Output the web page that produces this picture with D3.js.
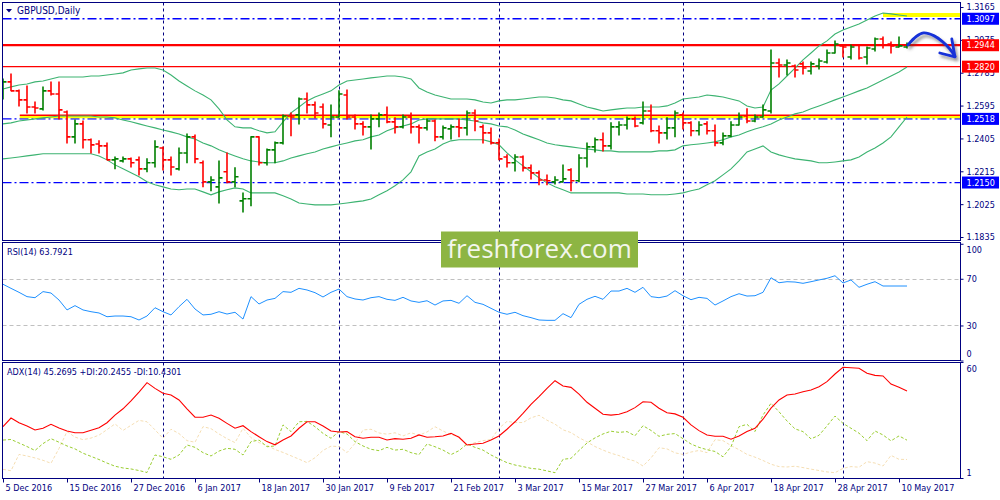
<!DOCTYPE html>
<html><head><meta charset="utf-8">
<script src="https://cdn.jsdelivr.net/npm/d3@7/dist/d3.min.js"></script>
<style>
body{margin:0;background:#fff}
svg{display:block}
text{font-family:"DejaVu Sans Condensed","DejaVu Sans",sans-serif;font-stretch:condensed;font-size:9px;fill:#000080}
</style>
</head><body>
<svg id="c" width="1000" height="500"></svg>
<script>
// ---------- DATA ----------
const openP = [1.2674,1.2732,1.2680,1.2628,1.2587,1.2576,1.2680,1.2662,1.2558,1.2414,
1.2489,1.2397,1.2373,1.2362,1.2281,1.2275,1.2287,1.2281,1.2229,1.2264,
1.2350,1.2281,1.2229,1.2321,1.2414,1.2264,1.2154,1.2125,1.2212,1.2154,
1.2044,1.2056,1.2414,1.2264,1.2339,1.2379,1.2535,1.2541,1.2633,1.2599,
1.2587,1.2483,1.2529,1.2656,1.2529,1.2489,1.2472,1.2518,1.2541,1.2501,
1.2472,1.2529,1.2472,1.2466,1.2506,1.2414,1.2460,1.2472,1.2466,1.2552,
1.2472,1.2437,1.2379,1.2298,1.2264,1.2298,1.2235,1.2206,1.2165,1.2154,
1.2154,1.2223,1.2160,1.2292,1.2356,1.2397,1.2362,1.2472,1.2483,1.2518,
1.2495,1.2564,1.2449,1.2437,1.2466,1.2541,1.2495,1.2449,1.2489,1.2449,
1.2379,1.2420,1.2483,1.2535,1.2506,1.2529,1.2564,1.2841,1.2830,1.2824,
1.2836,1.2795,1.2824,1.2847,1.2899,1.2940,1.2876,1.2945,1.2876,1.2922,
1.2980,1.2951,1.2934,1.2934];
const highP = [1.2749,1.2778,1.2685,1.2708,1.2616,1.2703,1.2732,1.2732,1.2564,1.2512,
1.2506,1.2402,1.2391,1.2379,1.2298,1.2298,1.2292,1.2298,1.2287,1.2391,
1.2356,1.2298,1.2350,1.2431,1.2425,1.2275,1.2183,1.2275,1.2321,1.2235,
1.2090,1.2414,1.2414,1.2344,1.2385,1.2541,1.2552,1.2639,1.2668,1.2616,
1.2604,1.2599,1.2680,1.2685,1.2541,1.2501,1.2541,1.2552,1.2587,1.2524,
1.2541,1.2552,1.2483,1.2518,1.2512,1.2477,1.2483,1.2518,1.2564,1.2570,
1.2483,1.2466,1.2402,1.2310,1.2310,1.2304,1.2252,1.2217,1.2194,1.2183,
1.2252,1.2229,1.2310,1.2379,1.2408,1.2437,1.2495,1.2501,1.2529,1.2529,
1.2616,1.2599,1.2477,1.2524,1.2564,1.2552,1.2501,1.2501,1.2501,1.2483,
1.2437,1.2501,1.2552,1.2576,1.2541,1.2599,1.2917,1.2865,1.2859,1.2830,
1.2847,1.2847,1.2865,1.2917,1.2969,1.2945,1.2945,1.2945,1.2934,1.2986,
1.2992,1.2963,1.2992,1.2957];
const lowP = [1.2633,1.2680,1.2593,1.2552,1.2552,1.2570,1.2656,1.2518,1.2379,1.2379,
1.2350,1.2321,1.2321,1.2281,1.2229,1.2269,1.2240,1.2194,1.2212,1.2240,
1.2223,1.2194,1.2223,1.2264,1.2264,1.2125,1.2102,1.2032,1.2148,1.2125,
1.1980,1.2015,1.2252,1.2252,1.2264,1.2373,1.2420,1.2489,1.2552,1.2524,
1.2466,1.2414,1.2529,1.2518,1.2460,1.2425,1.2344,1.2472,1.2495,1.2437,
1.2466,1.2437,1.2379,1.2454,1.2391,1.2402,1.2402,1.2414,1.2425,1.2449,
1.2379,1.2373,1.2281,1.2240,1.2217,1.2217,1.2171,1.2137,1.2137,1.2142,
1.2154,1.2102,1.2154,1.2240,1.2327,1.2333,1.2344,1.2425,1.2460,1.2472,
1.2489,1.2443,1.2379,1.2402,1.2414,1.2460,1.2420,1.2425,1.2431,1.2362,
1.2368,1.2414,1.2483,1.2495,1.2501,1.2529,1.2552,1.2760,1.2772,1.2760,
1.2778,1.2778,1.2807,1.2841,1.2899,1.2876,1.2865,1.2865,1.2836,1.2911,
1.2928,1.2899,1.2934,1.2928];
const closeP = [1.2732,1.2680,1.2628,1.2587,1.2581,1.2680,1.2662,1.2570,1.2414,1.2489,
1.2397,1.2368,1.2362,1.2281,1.2287,1.2287,1.2264,1.2229,1.2264,1.2356,
1.2281,1.2240,1.2321,1.2414,1.2287,1.2154,1.2165,1.2177,1.2154,1.2183,
1.2056,1.2414,1.2264,1.2339,1.2379,1.2535,1.2529,1.2633,1.2599,1.2552,
1.2489,1.2529,1.2662,1.2529,1.2489,1.2472,1.2518,1.2541,1.2501,1.2472,
1.2529,1.2472,1.2466,1.2506,1.2414,1.2466,1.2472,1.2466,1.2552,1.2506,
1.2437,1.2379,1.2287,1.2264,1.2298,1.2235,1.2206,1.2165,1.2160,1.2165,
1.2171,1.2160,1.2292,1.2356,1.2397,1.2362,1.2472,1.2483,1.2518,1.2477,
1.2564,1.2449,1.2437,1.2466,1.2552,1.2495,1.2449,1.2483,1.2449,1.2379,
1.2420,1.2483,1.2529,1.2506,1.2529,1.2570,1.2841,1.2830,1.2841,1.2801,
1.2812,1.2836,1.2853,1.2899,1.2951,1.2934,1.2934,1.2870,1.2928,1.2980,
1.2945,1.2940,1.2940,1.2945];
const bbUpper = [1.2691,1.2703,1.2714,1.2720,1.2732,1.2737,1.2749,1.2760,1.2760,1.2760,
1.2760,1.2766,1.2766,1.2772,1.2778,1.2784,1.2801,1.2807,1.2812,1.2812,
1.2801,1.2772,1.2737,1.2708,1.2680,1.2656,1.2628,1.2576,1.2512,1.2472,
1.2466,1.2466,1.2449,1.2437,1.2443,1.2501,1.2553,1.2587,1.2622,1.2645,
1.2662,1.2680,1.2714,1.2737,1.2743,1.2749,1.2755,1.2760,1.2766,1.2766,
1.2760,1.2749,1.2697,1.2674,1.2656,1.2645,1.2633,1.2633,1.2633,1.2628,
1.2616,1.2610,1.2622,1.2628,1.2628,1.2633,1.2639,1.2645,1.2645,1.2639,
1.2628,1.2622,1.2604,1.2587,1.2576,1.2564,1.2570,1.2576,1.2581,1.2581,
1.2587,1.2587,1.2587,1.2593,1.2610,1.2633,1.2639,1.2645,1.2656,1.2651,
1.2645,1.2633,1.2622,1.2593,1.2581,1.2587,1.2685,1.2720,1.2766,1.2812,
1.2859,1.2899,1.2940,1.2969,1.3009,1.3032,1.3049,1.3067,1.3090,1.3113,
1.3130,1.3125,1.3119,1.3113];
const bbMiddle = [1.2489,1.2495,1.2506,1.2512,1.2518,1.2524,1.2529,1.2535,1.2535,1.2535,
1.2535,1.2535,1.2529,1.2529,1.2524,1.2512,1.2501,1.2489,1.2477,1.2466,
1.2454,1.2443,1.2431,1.2414,1.2402,1.2379,1.2362,1.2339,1.2321,1.2304,
1.2287,1.2275,1.2269,1.2264,1.2264,1.2275,1.2292,1.2304,1.2316,1.2327,
1.2344,1.2356,1.2368,1.2379,1.2391,1.2397,1.2414,1.2425,1.2449,1.2466,
1.2477,1.2489,1.2512,1.2518,1.2518,1.2518,1.2518,1.2518,1.2512,1.2506,
1.2495,1.2489,1.2477,1.2472,1.2454,1.2431,1.2414,1.2397,1.2379,1.2368,
1.2362,1.2356,1.2350,1.2344,1.2339,1.2333,1.2333,1.2327,1.2327,1.2327,
1.2327,1.2327,1.2333,1.2333,1.2339,1.2362,1.2368,1.2373,1.2379,1.2385,
1.2397,1.2414,1.2425,1.2443,1.2460,1.2472,1.2489,1.2512,1.2529,1.2547,
1.2558,1.2576,1.2593,1.2610,1.2628,1.2645,1.2662,1.2680,1.2697,1.2720,
1.2743,1.2766,1.2789,1.2818];
const bbLower = [1.2287,1.2292,1.2298,1.2304,1.2310,1.2316,1.2316,1.2316,1.2316,1.2316,
1.2316,1.2316,1.2304,1.2281,1.2252,1.2229,1.2206,1.2183,1.2154,1.2137,
1.2125,1.2113,1.2108,1.2113,1.2113,1.2096,1.2079,1.2096,1.2108,1.2119,
1.2113,1.2090,1.2090,1.2090,1.2090,1.2073,1.2055,1.2032,1.2026,1.2021,
1.2021,1.2021,1.2026,1.2032,1.2038,1.2044,1.2055,1.2079,1.2102,1.2131,
1.2165,1.2212,1.2304,1.2327,1.2344,1.2373,1.2391,1.2397,1.2397,1.2397,
1.2397,1.2385,1.2368,1.2321,1.2281,1.2246,1.2212,1.2177,1.2148,1.2125,
1.2108,1.2090,1.2090,1.2090,1.2090,1.2090,1.2090,1.2090,1.2084,1.2084,
1.2084,1.2079,1.2079,1.2079,1.2084,1.2090,1.2102,1.2113,1.2137,1.2160,
1.2194,1.2229,1.2275,1.2327,1.2344,1.2362,1.2327,1.2310,1.2298,1.2287,
1.2281,1.2275,1.2264,1.2264,1.2269,1.2275,1.2281,1.2298,1.2327,1.2350,
1.2379,1.2414,1.2472,1.2529];
const rsi = [65.3,61.8,58.4,54.7,53.8,59.0,57.8,51.8,43.3,47.0,
43.3,41.8,40.7,37.5,38.1,38.1,37.5,34.7,38.1,45.2,
41.8,39.0,46.1,52.4,44.1,39.0,39.6,41.8,39.8,41.3,
35.5,54.7,48.4,51.8,53.2,59.0,58.4,61.8,60.4,58.1,
54.4,58.4,61.2,54.7,52.7,51.8,53.8,54.7,52.4,51.5,
54.1,51.0,49.8,51.2,47.5,51.0,51.5,49.0,55.5,49.8,
48.1,44.7,41.3,39.6,41.3,38.4,36.7,34.7,34.4,34.4,
40.1,36.7,48.1,52.4,55.0,52.4,59.5,59.5,61.8,58.4,
62.7,54.7,53.8,55.2,59.8,55.5,52.1,54.1,53.2,47.5,
51.0,54.7,57.2,55.2,55.5,58.4,70.9,66.6,67.5,67.2,
66.1,67.5,69.0,70.4,72.6,66.4,69.0,62.7,65.3,67.5,
63.8,63.8,63.8,63.79];
const adx = [27.1,31.5,29.1,27.4,25.4,26.3,28.3,26.4,24.9,24.0,
24.0,25.3,26.6,29.1,33.0,36.2,40.2,44.7,49.5,46.6,
44.1,43.2,40.7,36.2,31.9,31.9,33.0,31.4,28.8,26.3,
27.6,24.6,22.0,19.5,17.9,20.3,22.4,26.3,29.6,29.6,
27.4,24.9,24.4,24.6,22.0,21.2,21.7,21.7,20.3,21.0,
20.7,21.2,22.9,21.7,22.0,22.4,23.7,21.7,17.8,18.3,
18.7,20.3,22.4,25.8,29.6,33.9,38.5,42.4,46.6,50.5,
47.8,47.1,43.7,39.5,36.5,33.4,33.0,33.4,34.7,36.8,
39.8,39.5,36.5,34.2,33.6,31.9,28.0,25.1,22.9,22.2,
22.2,20.7,22.4,24.6,26.3,30.9,36.5,40.7,43.2,43.7,
44.9,45.8,47.4,50.0,53.9,57.3,57.1,56.8,54.3,53.2,
52.9,48.8,47.1,45.27];
const plusDI = [20.3,20.6,18.8,17.0,15.0,18.5,21.0,19.2,17.3,15.8,
13.6,12.0,10.4,8.6,7.0,6.1,5.6,4.8,3.8,12.7,
11.8,10.5,12.7,17.8,16.6,13.9,12.2,14.7,16.1,15.6,
12.7,19.5,20.3,16.9,17.3,28.0,24.6,29.6,29.8,27.1,
23.7,21.2,24.6,23.4,19.5,17.3,15.6,14.9,16.6,15.2,
15.6,13.9,12.9,18.3,16.9,15.2,12.9,14.9,18.3,16.6,
15.2,12.7,10.7,8.8,7.6,6.8,5.9,5.5,4.6,3.7,
10.5,11.0,15.0,18.8,21.4,23.4,24.8,24.2,24.6,22.5,
27.6,25.2,22.2,23.2,23.6,21.0,18.3,16.6,15.4,14.5,
11.8,16.9,27.1,28.3,24.6,33.0,39.0,34.7,30.0,26.0,
24.6,20.9,22.7,27.5,32.5,28.8,26.3,23.8,20.0,24.9,
22.9,19.9,22.4,20.25];
const minusDI = [5.4,4.7,13.0,12.2,11.2,10.0,8.5,16.0,24.6,21.8,
20.5,21.3,22.8,25.6,28.5,25.2,27.8,30.3,29.6,25.5,
21.2,25.8,23.6,20.0,19.2,27.1,26.1,23.4,21.0,19.0,
26.3,21.5,19.0,17.6,15.5,14.0,12.3,10.6,8.8,11.3,
15.0,17.2,17.0,13.9,18.6,25.4,25.8,23.9,23.3,24.0,
22.4,24.0,22.8,24.4,27.1,24.9,23.0,22.1,17.5,19.0,
20.0,20.6,26.3,29.8,29.2,29.2,31.6,32.9,30.4,28.4,
25.5,24.1,21.5,19.4,17.0,15.2,13.6,12.4,10.7,9.6,
7.1,11.2,16.4,15.8,13.8,13.0,14.2,15.0,13.9,20.5,
20.0,17.5,15.4,13.0,11.6,9.9,8.0,6.8,6.6,7.0,
6.3,5.5,4.8,4.1,3.7,5.9,6.8,6.5,9.3,8.6,
7.1,12.5,10.5,10.43];

const priceTicks = [1.3165,1.2975,1.2785,1.2595,1.2405,1.2215,1.2025,1.1835];
const rsiTicks = [100,70,30,0];
const rsiLevels = [70,30];
const adxTicks = [60,1];
const dateLabels = ["5 Dec 2016","15 Dec 2016","27 Dec 2016","6 Jan 2017","18 Jan 2017","30 Jan 2017","9 Feb 2017","21 Feb 2017","3 Mar 2017","15 Mar 2017","27 Mar 2017","6 Apr 2017","18 Apr 2017","28 Apr 2017","10 May 2017"];
const dateIdx = [0,8,16,24,32,40,48,56,64,72,80,88,96,104,112];
const separatorIdx = [20,42,62,85,105];
const blueLevels = [1.3097,1.2518,1.2150];
const redLevels = [1.2944,1.2820];
const zoneRed = 1.2539, zoneYellow = 1.2531, zoneStartIdx = 2.1;
const topYellow = 1.3119, topYellowStartIdx = 110;
const labelBoxes = [{v:1.3097,c:"#0000ff"},{v:1.2944,c:"#ff0000"},{v:1.2820,c:"#ff0000"},{v:1.2518,c:"#0000ff"},{v:1.2150,c:"#0000ff"}];
const arrowIdx = [113.1,114.2,115.1,116.4,117.4,118.3,119.0];
const arrowPrice = [1.2945,1.2996,1.3015,1.2998,1.2966,1.2925,1.2880];
const arrowHeadIdx = [118.6,119.0,117.1];
const arrowHeadPrice = [1.2980,1.2876,1.2899];

// ---------- SCALES ----------
const L = 2.5, R = 960.5;
const P = {main:[2.5,240.5], rsi:[242.5,360.5], adx:[362.5,478.5]};
const x = d3.scaleLinear().domain([0,113]).range([3,907]);
const yP = d3.scaleLinear().domain([1.1835,1.3165]).range([237,7]);
const yR = d3.scaleLinear().domain([0,100]).range([360.5,243.75]);
const yA = d3.scaleLinear().domain([1,60]).range([478,362]);

const svg = d3.select("#c");
const defs = svg.append("defs");
Object.entries(P).forEach(([k,[t,b]])=>{
  defs.append("clipPath").attr("id","clip-"+k).append("rect")
    .attr("x",L).attr("y",t).attr("width",R-L).attr("height",b-t);
});
const fz = defs.append("filter").attr("id","zoneBlur").attr("x","-5%").attr("y","-300%").attr("width","110%").attr("height","700%");
fz.append("feGaussianBlur").attr("stdDeviation",3);
const fs = defs.append("filter").attr("id","shadow").attr("x","-30%").attr("y","-30%").attr("width","160%").attr("height","160%");
fs.append("feDropShadow").attr("dx",2).attr("dy",3).attr("stdDeviation",1.5).attr("flood-color","#444").attr("flood-opacity",0.55);

svg.append("rect").attr("width",1000).attr("height",500).attr("fill","#fff");

// separators across all panels
svg.append("g").selectAll("line").data(separatorIdx).join("line")
  .attr("x1",d=>x(d)+0.5).attr("x2",d=>x(d)+0.5).attr("y1",2.5).attr("y2",478.5)
  .attr("stroke","#000080").attr("stroke-dasharray","3,3").attr("stroke-width",1);

// ---------- MAIN PANEL ----------
const gm = svg.append("g").attr("clip-path","url(#clip-main)");
// zone shadow + yellow + red
gm.append("line").attr("x1",x(zoneStartIdx)).attr("x2",R).attr("y1",yP(zoneYellow)).attr("y2",yP(zoneYellow))
  .attr("stroke","#666").attr("stroke-opacity",0.55).attr("stroke-width",6).attr("filter","url(#zoneBlur)");
gm.append("line").attr("x1",x(topYellowStartIdx)).attr("x2",R).attr("y1",yP(topYellow)+1).attr("y2",yP(topYellow)+1)
  .attr("stroke","#888").attr("stroke-opacity",0.35).attr("stroke-width",4).attr("filter","url(#zoneBlur)");
// blue dash-dot levels
gm.selectAll(".bl").data(blueLevels).join("line")
  .attr("x1",L).attr("x2",R).attr("y1",d=>yP(d)).attr("y2",d=>yP(d))
  .attr("stroke","#0000ff").attr("stroke-width",1.3).attr("stroke-dasharray","9,3,2,3");
gm.append("line").attr("x1",x(zoneStartIdx)).attr("x2",R).attr("y1",yP(zoneYellow)).attr("y2",yP(zoneYellow))
  .attr("stroke","#ffff00").attr("stroke-width",3);
gm.append("line").attr("x1",x(zoneStartIdx)).attr("x2",R).attr("y1",yP(zoneRed)).attr("y2",yP(zoneRed))
  .attr("stroke","#ff0000").attr("stroke-width",1.5);
gm.append("line").attr("x1",x(topYellowStartIdx)).attr("x2",R).attr("y1",yP(topYellow)).attr("y2",yP(topYellow))
  .attr("stroke","#ffff00").attr("stroke-width",4);
// red levels
gm.selectAll(".rl").data(redLevels).join("line")
  .attr("x1",L).attr("x2",R).attr("y1",d=>yP(d)).attr("y2",d=>yP(d))
  .attr("stroke","#ff0000").attr("stroke-width",(d,i)=>i===0?2.2:1.2);

// Bollinger bands
const lineP = d3.line().x((d,i)=>x(i)).y(d=>yP(d));
[bbUpper,bbMiddle,bbLower].forEach(s=>{
  gm.append("path").datum(s).attr("d",lineP).attr("fill","none").attr("stroke","#3cb371").attr("stroke-width",1.1);
});

// OHLC bars
const bars = gm.append("g").selectAll("g").data(openP.map((o,i)=>({i,o,h:highP[i],l:lowP[i],c:closeP[i]}))).join("g")
  .attr("stroke",d=>d.c>=d.o?"#008000":"#ff0000").attr("stroke-width",1.6);
bars.append("line").attr("x1",d=>x(d.i)).attr("x2",d=>x(d.i)).attr("y1",d=>yP(d.h)-0.5).attr("y2",d=>yP(d.l)+0.5);
bars.append("line").attr("x1",d=>x(d.i)-3.5).attr("x2",d=>x(d.i)).attr("y1",d=>yP(d.o)).attr("y2",d=>yP(d.o));
bars.append("line").attr("x1",d=>x(d.i)).attr("x2",d=>x(d.i)+3.5).attr("y1",d=>yP(d.c)).attr("y2",d=>yP(d.c));

// hand drawn arrow
const ga = svg.append("g").attr("filter","url(#shadow)");
const arrowLine = d3.line().x(d=>x(d[0])).y(d=>yP(d[1])).curve(d3.curveCatmullRom);
ga.append("path").datum(arrowIdx.map((d,i)=>[d,arrowPrice[i]])).attr("d",arrowLine)
  .attr("fill","none").attr("stroke","#1530d8").attr("stroke-width",2.8).attr("stroke-linecap","round");
ga.append("path").datum(arrowHeadIdx.map((d,i)=>[d,arrowHeadPrice[i]])).attr("d",d3.line().x(d=>x(d[0])).y(d=>yP(d[1])))
  .attr("fill","none").attr("stroke","#1530d8").attr("stroke-width",2.8).attr("stroke-linecap","round").attr("stroke-linejoin","round");

// ---------- RSI PANEL ----------
const gr = svg.append("g").attr("clip-path","url(#clip-rsi)");
gr.selectAll(".lv").data(rsiLevels).join("line")
  .attr("x1",L).attr("x2",R).attr("y1",d=>Math.round(yR(d))+0.5).attr("y2",d=>Math.round(yR(d))+0.5)
  .attr("stroke","#c0c0c0").attr("stroke-dasharray","4,3");
gr.append("path").datum(rsi).attr("d",d3.line().x((d,i)=>x(i)).y(d=>yR(d)))
  .attr("fill","none").attr("stroke","#1e90ff").attr("stroke-width",1);

// ---------- ADX PANEL ----------
const gd = svg.append("g").attr("clip-path","url(#clip-adx)");
const lineA = d3.line().x((d,i)=>x(i)).y(d=>yA(d));
gd.append("path").datum(minusDI).attr("d",lineA).attr("fill","none").attr("stroke","#f5deb3").attr("stroke-width",1).attr("stroke-dasharray","3,2");
gd.append("path").datum(plusDI).attr("d",lineA).attr("fill","none").attr("stroke","#9acd32").attr("stroke-width",1).attr("stroke-dasharray","3,2");
gd.append("path").datum(adx).attr("d",lineA).attr("fill","none").attr("stroke","#ff0000").attr("stroke-width",1.1);

// ---------- PANEL BORDERS ----------
Object.values(P).forEach(([t,b])=>{
  svg.append("rect").attr("x",L).attr("y",t).attr("width",R-L).attr("height",b-t)
    .attr("fill","none").attr("stroke","#000080").attr("stroke-width",1);
});

// ---------- AXES ----------
const ax1 = svg.append("g").attr("transform",`translate(${R},0)`)
  .call(d3.axisRight(yP).tickValues(priceTicks).tickFormat(d3.format(".4f")).tickSize(3).tickSizeOuter(0));
const ax2 = svg.append("g").attr("transform",`translate(${R},0)`)
  .call(d3.axisRight(yR).tickValues(rsiTicks).tickSize(3).tickSizeOuter(0));
ax2.selectAll(".tick text").attr("dy",d=>d===100?"0.95em":d===0?"-0.45em":"0.32em");
const ax3 = svg.append("g").attr("transform",`translate(${R},0)`)
  .call(d3.axisRight(yA).tickValues(adxTicks).tickSize(3).tickSizeOuter(0));
ax3.selectAll(".tick text").attr("dy",d=>d===60?"1.1em":"-0.25em");
const ax4 = svg.append("g").attr("transform",`translate(0,478.5)`)
  .call(d3.axisBottom(x).tickValues(dateIdx).tickFormat((d,i)=>dateLabels[i]).tickSize(4).tickSizeOuter(0));
ax4.selectAll(".tick text").attr("text-anchor","start").attr("x",2).attr("y",6);
[ax1,ax2,ax3,ax4].forEach(a=>{
  a.select(".domain").remove();
  a.selectAll(".tick line").attr("stroke","#000080");
  a.selectAll(".tick text").attr("fill","#000080").style("font-size","9px")
   .attr("font-family",null);
});
ax1.selectAll(".tick text").attr("x",6);

// level label boxes
const lb = svg.append("g").selectAll("g").data(labelBoxes).join("g");
lb.append("rect").attr("x",962).attr("y",d=>yP(d.v)-6).attr("width",37).attr("height",12).attr("fill",d=>d.c);
lb.append("text").attr("x",966.5).attr("y",d=>yP(d.v)).attr("dy","0.34em").text(d=>d3.format(".4f")(d.v))
  .style("fill","#fff");

// ---------- TITLES ----------
svg.append("path").attr("d","M6,9L12,9L9,12.5Z").attr("fill","#000080");
svg.append("text").attr("x",17).attr("y",11).attr("dy","0.34em").text("GBPUSD,Daily").style("font-size","10px");
svg.append("text").attr("x",7).attr("y",251.5).attr("dy","0.34em").text("RSI(14) 63.7921");
svg.append("text").attr("x",7).attr("y",371.5).attr("dy","0.34em").text("ADX(14) 45.2695 +DI:20.2455 -DI:10.4301");

// ---------- WATERMARK ----------
svg.append("rect").attr("x",441).attr("y",231.5).attr("width",197).attr("height",36).attr("fill","#8db543");
svg.append("text").attr("x",539.5).attr("y",258).attr("text-anchor","middle").text("freshforex.com")
  .style("font-family","'Open Sans',sans-serif").style("font-stretch","normal").style("font-size","26px").style("fill","#f3f6ec");
</script>
</body></html>
